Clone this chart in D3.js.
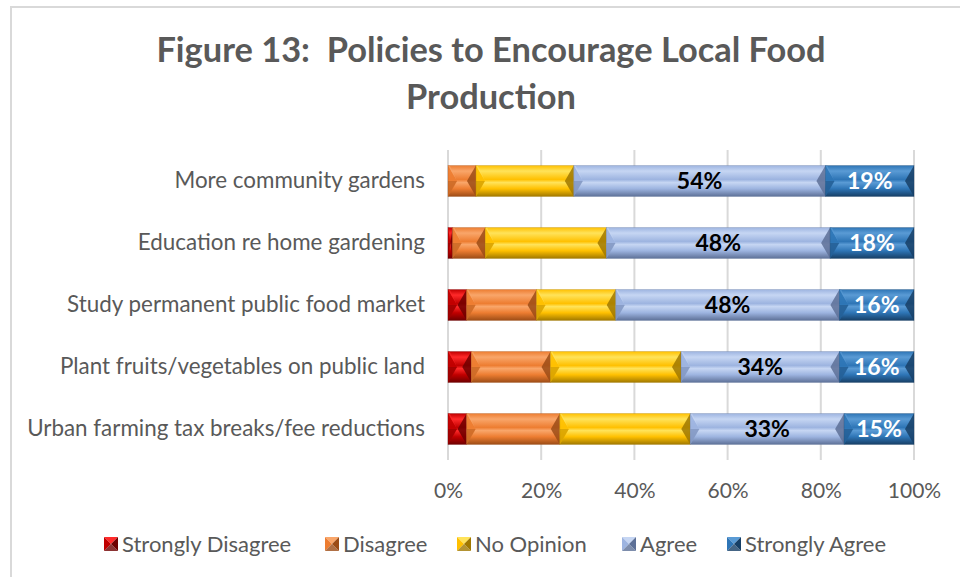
<!DOCTYPE html>
<html>
<head>
<meta charset="utf-8">
<script src="https://cdn.jsdelivr.net/npm/d3@7"></script>
<style>
  html, body { margin: 0; padding: 0; background: #fff; }
  svg text { font-family: Lato, "Open Sans", sans-serif; }
</style>
</head>
<body>
<svg id="chart" width="960" height="577"></svg>
<script>
// Survey categories, top to bottom
const categories = [
  "More community gardens",
  "Education re home gardening",
  "Study permanent public food market",
  "Plant fruits/vegetables on public land",
  "Urban farming tax breaks/fee reductions"
];
const seriesNames = ["Strongly Disagree", "Disagree", "No Opinion", "Agree", "Strongly Agree"];

// Share of responses (%) per category, one array per answer
const stronglyDisagree = [0, 1, 4, 5, 4];
const disagree         = [6, 7, 15, 17, 20];
const noOpinion        = [21, 26, 17, 28, 28];
const agree            = [54, 48, 48, 34, 33];
const stronglyAgree    = [19, 18, 16, 16, 15];

const tickValues = [0, 20, 40, 60, 80, 100];
const titleLines = ["Figure 13:  Policies to Encourage Local Food", "Production"];

const series = [stronglyDisagree, disagree, noOpinion, agree, stronglyAgree];
// label shown only on the two agree segments
const showLabel = [false, false, false, true, true];
const labelColor = ["#000", "#000", "#000", "#000", "#fff"];

// base / light / dark shades for the bevelled segments
const palette = [
  { base: "#c00000", light: "#ff2a2a", dark: "#6e0000" },
  { base: "#ed7d31", light: "#f9a66a", dark: "#9c4c16" },
  { base: "#ffc000", light: "#ffe35a", dark: "#a07800" },
  { base: "#9db4e0", light: "#c6d6f3", dark: "#5d7097" },
  { base: "#2e75b6", light: "#5a9bd5", dark: "#173f66" }
];

const svg = d3.select("#chart");
const defs = svg.append("defs");

palette.forEach((c, i) => {
  const g = defs.append("linearGradient")
    .attr("id", "grad" + i).attr("x1", 0).attr("y1", 0).attr("x2", 0).attr("y2", 1);
  [[0, c.base], [0.18, c.light], [0.45, c.base], [0.55, c.light], [0.75, c.base], [1, c.dark]]
    .forEach(([o, col]) => g.append("stop").attr("offset", o).attr("stop-color", col));
});

// outer frame
svg.append("rect")
  .attr("x", 11).attr("y", 7).attr("width", 1000).attr("height", 700)
  .attr("fill", "none").attr("stroke", "#d9d9d9").attr("stroke-width", 2);

// title
svg.append("g").selectAll("text").data(titleLines).join("text")
  .attr("x", 491).attr("y", (d, i) => 62 + i * 47)
  .attr("text-anchor", "middle")
  .style("white-space", "pre")
  .attr("font-size", 34.4).attr("font-weight", "bold").attr("fill", "#595959")
  .text(d => d);

const x = d3.scaleLinear().domain([0, 100]).range([448, 914]);
const y = d3.scaleBand().domain(categories).range([150, 460])
  .paddingInner(0.5).paddingOuter(0.25);

// vertical gridlines
svg.append("g").selectAll("line").data(tickValues).join("line")
  .attr("x1", d => x(d)).attr("x2", d => x(d))
  .attr("y1", 150).attr("y2", 460)
  .attr("stroke", "#d9d9d9").attr("stroke-width", 2);

// x axis labels
const xAxis = d3.axisBottom(x).tickValues(tickValues).tickFormat(d => d + "%").tickSize(0).tickPadding(0);
const xg = svg.append("g").attr("transform", "translate(0,483)").call(xAxis);
xg.select(".domain").remove();
xg.selectAll("text").attr("font-size", 21).attr("fill", "#595959")
  .style("font-family", "Lato, 'Open Sans', sans-serif");

// category labels
const yAxis = d3.axisLeft(y).tickSize(0).tickPadding(0);
const yg = svg.append("g").attr("transform", "translate(425,0)").call(yAxis);
yg.select(".domain").remove();
yg.selectAll("text").attr("font-size", 22.4).attr("fill", "#595959")
  .style("font-family", "Lato, 'Open Sans', sans-serif");

// stacked segments
const stackData = categories.map((c, ci) => {
  let acc = 0;
  return series.map((s, si) => {
    const d = { cat: c, si, v: s[ci], x0: acc, x1: acc + s[ci] };
    acc += s[ci];
    return d;
  });
}).flat().filter(d => d.v > 0);

const seg = svg.append("g").selectAll("g").data(stackData).join("g");
const bh = y.bandwidth();

seg.each(function (d) {
  const g = d3.select(this);
  const x0 = x(d.x0), x1 = x(d.x1), y0 = y(d.cat), y1 = y0 + bh, ym = y0 + bh / 2;
  const w = Math.min(9, (x1 - x0) / 2);
  const c = palette[d.si];
  g.append("rect").attr("x", x0).attr("y", y0).attr("width", x1 - x0).attr("height", bh)
    .attr("fill", `url(#grad${d.si})`);
  // left and right bevel faces
  g.append("path").attr("d", `M${x0},${y0}L${x0 + w},${ym}L${x0},${y1}Z`)
    .attr("fill", c.base).attr("opacity", 0.9);
  g.append("path").attr("d", `M${x0},${y0}L${x0 + w},${ym}L${x0 + w * 0.2},${y0}Z`)
    .attr("fill", c.light).attr("opacity", 0.6);
  g.append("path").attr("d", `M${x0},${ym}L${x0 + w},${ym}L${x0},${y1}Z`)
    .attr("fill", c.dark).attr("opacity", 0.35);
  g.append("path").attr("d", `M${x1},${y0}L${x1 - w},${ym}L${x1},${y1}Z`)
    .attr("fill", c.dark).attr("opacity", 0.85);
  g.append("rect").attr("x", x0).attr("y", y0).attr("width", x1 - x0).attr("height", bh)
    .attr("fill", "none").attr("stroke", c.dark).attr("stroke-opacity", 0.35).attr("stroke-width", 0.8);
});

// value labels
svg.append("g").selectAll("text")
  .data(stackData.filter(d => showLabel[d.si])).join("text")
  .attr("x", d => x((d.x0 + d.x1) / 2))
  .attr("y", d => y(d.cat) + bh / 2)
  .attr("dy", "0.36em")
  .attr("text-anchor", "middle")
  .attr("font-size", 23).attr("font-weight", "bold")
  .attr("fill", d => labelColor[d.si])
  .text(d => d.v + "%");

// legend
const legendX = [104, 325, 457, 622, 727];
const lg = svg.append("g").selectAll("g").data(seriesNames).join("g")
  .attr("transform", (d, i) => `translate(${legendX[i]},537)`);
lg.each(function (d, i) {
  const g = d3.select(this);
  const c = palette[i], s = 14, h = s / 2;
  g.append("path").attr("d", `M0,0L${s},0L${h},${h}Z`).attr("fill", c.light);
  g.append("path").attr("d", `M0,0L${h},${h}L0,${s}Z`).attr("fill", c.base);
  g.append("path").attr("d", `M${s},0L${s},${s}L${h},${h}Z`).attr("fill", c.dark);
  g.append("path").attr("d", `M0,${s}L${s},${s}L${h},${h}Z`).attr("fill", c.dark).attr("opacity", 0.8);
  g.append("text").attr("x", s + 4).attr("y", h).attr("dy", "0.36em")
    .attr("font-size", 22).attr("fill", "#595959").text(d);
});
</script>
</body>
</html>
